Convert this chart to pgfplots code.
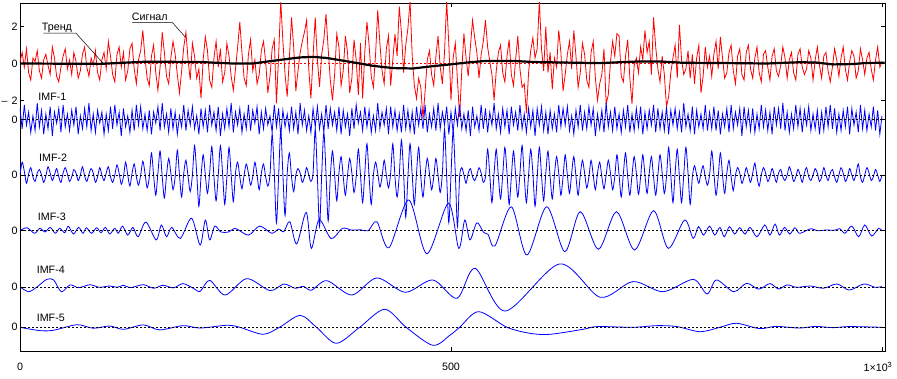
\documentclass[border=0pt]{standalone}
\usepackage{fontspec}
\setmainfont{Liberation Sans}
\usepackage{pgfplots}
\usepackage{pgfplotstable}
\pgfplotsset{compat=1.18}
\newcommand{\lbl}{\fontsize{10.7}{12}\selectfont}

\pgfplotstableread[row sep=\\]{y\\
0.1\\ 0.6\\ -0.2\\ 0.8\\ -0.5\\ -0.9\\ 0.3\\ 0.1\\ 0.7\\ -0.4\\ -0.8\\ 0.2\\ 0.5\\ -0.1\\ -0.6\\ 0.9\\ 0.3\\ -0.7\\ -1.0\\ -0.2\\
0.4\\ 0.8\\ -0.3\\ 0.2\\ -0.6\\ 0.6\\ 0.1\\ -0.8\\ -0.4\\ 0.5\\ 0.9\\ -0.2\\ -0.7\\ 0.3\\ -0.1\\ 0.7\\ -0.5\\ -0.9\\ 0.2\\ 0.6\\
-0.3\\ 1.2\\ 0.4\\ -0.6\\ -1.0\\ 0.5\\ 0.9\\ -0.2\\ 0.6\\ -0.9\\ -0.4\\ 0.8\\ 1.1\\ -0.3\\ -1.1\\ 0.2\\ 0.7\\ 1.8\\ 0.3\\ -0.8\\
-1.2\\ 0.4\\ 1.0\\ -0.5\\ -1.45\\ -0.2\\ 1.7\\ 0.6\\ -0.7\\ -1.1\\ 0.3\\ 1.2\\ 0.5\\ -0.6\\ -1.6\\ -0.4\\ 0.9\\ 1.7\\ 0.2\\ -0.9\\
1.1\\ 0.4\\ -0.8\\ -0.3\\ -1.9\\ 0.2\\ 1.45\\ 0.7\\ -0.9\\ -1.3\\ 0.3\\ 1.2\\ -0.2\\ 0.8\\ -1.0\\ -0.5\\ 1.1\\ 0.4\\ -0.7\\ -1.45\\
-0.3\\ 0.9\\ 2.26\\ 0.6\\ -0.8\\ -1.2\\ 0.5\\ 1.3\\ -0.4\\ 0.2\\ -1.1\\ -0.6\\ 0.7\\ 1.2\\ 0.1\\ -1.6\\ -0.7\\ 0.8\\ 1.3\\ -2.17\\
0.4\\ 3.4\\ 1.2\\ -0.6\\ -1.8\\ 0.3\\ 2.5\\ 0.9\\ -1.5\\ -0.4\\ 0.6\\ 1.2\\ 1.7\\ 2.35\\ -0.3\\ -1.9\\ 0.4\\ 2.5\\ 0.2\\ -1.27\\
0.5\\ 1.3\\ 2.7\\ 0.8\\ -0.9\\ -2.0\\ -0.6\\ 1.6\\ 0.9\\ -1.2\\ -0.4\\ 1.5\\ 0.6\\ -1.6\\ -0.8\\ 1.3\\ 0.2\\ -1.7\\ 1.1\\ -1.9\\
0.6\\ 2.26\\ 1.0\\ -0.7\\ -1.3\\ 0.5\\ 2.9\\ 1.1\\ -0.4\\ -1.1\\ 0.8\\ 1.5\\ -1.2\\ 0.2\\ 1.6\\ 0.4\\ 3.1\\ 1.7\\ -0.5\\ 1.0\\
1.9\\ 3.4\\ 0.4\\ -1.2\\ -1.9\\ -0.8\\ -1.3\\ -3.0\\ -1.5\\ 0.2\\ 0.7\\ -0.6\\ -1.2\\ 0.4\\ 1.5\\ -0.2\\ -1.1\\ 0.6\\ 3.4\\ 1.0\\
-2.0\\ 0.3\\ 1.1\\ -0.9\\ -2.9\\ -0.4\\ 1.63\\ 0.3\\ -0.7\\ 0.9\\ 2.35\\ 1.4\\ 0.6\\ -0.8\\ 0.5\\ 1.2\\ 2.35\\ 0.9\\ 0.1\\ -0.6\\
-2.0\\ -0.4\\ 0.6\\ 1.0\\ -0.5\\ -1.0\\ 0.4\\ 1.3\\ -0.6\\ -1.2\\ 0.2\\ 1.5\\ -0.3\\ -1.3\\ -1.1\\ -2.7\\ -0.5\\ 0.7\\ 1.4\\ 0.3\\
0.8\\ 3.4\\ 0.8\\ -0.4\\ 2.0\\ -0.5\\ 0.6\\ -1.4\\ 0.3\\ -0.2\\ 1.8\\ 0.6\\ -1.5\\ -0.6\\ 0.5\\ 1.2\\ -0.3\\ 1.8\\ 0.4\\ -1.3\\
-0.5\\ 1.1\\ 0.5\\ -0.9\\ -1.3\\ 0.6\\ 1.2\\ -0.8\\ -2.0\\ -1.1\\ -0.6\\ 0.8\\ -2.2\\ -1.7\\ 0.1\\ 1.2\\ 0.4\\ 1.63\\ 1.5\\ -0.7\\
-1.0\\ 0.4\\ 1.3\\ -0.8\\ -2.2\\ -0.1\\ 0.3\\ -0.5\\ 0.9\\ 0.2\\ 1.8\\ 0.6\\ 1.2\\ -0.6\\ 2.5\\ 0.9\\ -0.3\\ -1.0\\ 0.4\\ -0.6\\
-2.35\\ -1.8\\ -0.5\\ 0.3\\ 1.0\\ -0.8\\ 2.1\\ 0.2\\ -0.6\\ -0.3\\ 0.7\\ -0.8\\ 0.5\\ -1.1\\ 0.3\\ 1.0\\ -1.6\\ -0.7\\ 0.9\\ -0.2\\
0.4\\ -0.7\\ 0.5\\ 1.2\\ -0.3\\ 1.45\\ 0.3\\ -0.8\\ -0.5\\ 0.6\\ 1.0\\ -0.4\\ -1.1\\ 0.4\\ 0.8\\ -0.6\\ -0.9\\ 0.6\\ 1.0\\ -0.3\\
-0.8\\ 0.3\\ 0.9\\ -0.5\\ -1.0\\ 0.5\\ 0.7\\ -0.2\\ -0.9\\ 0.4\\ 0.8\\ -0.4\\ -0.7\\ -0.1\\ 0.9\\ 0.3\\ -0.8\\ 0.2\\ 0.6\\ -0.5\\
-0.9\\ 0.5\\ 0.8\\ -0.2\\ -0.6\\ -0.3\\ 0.7\\ 0.3\\ -0.9\\ 0.2\\ 0.9\\ -0.1\\ -0.8\\ 0.4\\ 0.6\\ -0.4\\ -1.0\\ -0.2\\ 0.8\\ 0.2\\
-0.7\\ 0.3\\ 0.9\\ -0.3\\ -0.9\\ 0.1\\ 0.7\\ 0.4\\ -0.8\\ -0.4\\ 0.8\\ 0.2\\ -0.6\\ 0.3\\ 0.6\\ -0.3\\ -0.9\\ 0.2\\ 0.9\\ -0.2\\
0.1\\
}\sig

\pgfplotstableread[row sep=\\]{y\\
0.6\\ -0.5\\ 0.8\\ -0.3\\ 0.4\\ -0.7\\ 0.2\\ -0.6\\ 0.9\\ -0.4\\ 0.5\\ -0.8\\ 0.3\\ -0.5\\ 0.7\\ -0.9\\ 0.4\\ -0.2\\ 0.6\\ -0.7\\
0.8\\ -0.4\\ 0.3\\ -0.6\\ 0.5\\ -0.3\\ 0.7\\ -0.8\\ 0.2\\ -0.5\\ 0.6\\ -0.4\\ 0.9\\ -0.6\\ 0.3\\ -0.7\\ 0.5\\ -0.2\\ 0.4\\ -0.8\\
0.3\\ -0.6\\ 0.7\\ -0.5\\ 0.8\\ -0.3\\ 0.4\\ -0.9\\ 0.6\\ -0.4\\ 0.2\\ -0.7\\ 0.5\\ -0.6\\ 0.8\\ -0.3\\ 0.7\\ -0.5\\ 0.3\\ -0.6\\
0.5\\ -0.8\\ 0.4\\ -0.2\\ 0.7\\ -0.6\\ 0.9\\ -0.4\\ 0.3\\ -0.7\\ 0.6\\ -0.5\\ 0.4\\ -0.8\\ 0.2\\ -0.4\\ 0.8\\ -0.6\\ 0.5\\ -0.3\\
0.7\\ -0.5\\ 0.2\\ -0.8\\ 0.6\\ -0.4\\ 0.5\\ -0.7\\ 0.8\\ -0.3\\ 0.4\\ -0.6\\ 0.7\\ -0.9\\ 0.3\\ -0.5\\ 0.6\\ -0.4\\ 0.9\\ -0.7\\
0.4\\ -0.3\\ 0.6\\ -0.7\\ 0.3\\ -0.5\\ 0.8\\ -0.6\\ 0.5\\ -0.2\\ 0.7\\ -0.8\\ 0.4\\ -0.5\\ 0.6\\ -0.3\\ 0.2\\ -0.7\\ 0.8\\ -0.4\\
0.6\\ -0.9\\ 0.5\\ -0.4\\ 0.3\\ -0.6\\ 0.7\\ -0.5\\ 0.4\\ -0.8\\ 0.9\\ -0.3\\ 0.5\\ -0.6\\ 0.2\\ -0.7\\ 0.6\\ -0.4\\ 0.7\\ -0.5\\
0.3\\ -0.7\\ 0.8\\ -0.5\\ 0.6\\ -0.3\\ 0.4\\ -0.6\\ 0.7\\ -0.8\\ 0.5\\ -0.4\\ 0.3\\ -0.9\\ 0.6\\ -0.5\\ 0.8\\ -0.2\\ 0.4\\ -0.6\\
0.7\\ -0.4\\ 0.5\\ -0.7\\ 0.2\\ -0.6\\ 0.9\\ -0.5\\ 0.4\\ -0.3\\ 0.6\\ -0.8\\ 0.7\\ -0.4\\ 0.5\\ -0.6\\ 0.3\\ -0.7\\ 0.8\\ -0.5\\
0.5\\ -0.6\\ 0.4\\ -0.8\\ 0.7\\ -0.3\\ 0.6\\ -0.5\\ 0.8\\ -0.7\\ 0.3\\ -0.4\\ 0.6\\ -0.6\\ 0.9\\ -0.5\\ 0.4\\ -0.3\\ 0.7\\ -0.8\\
0.4\\ -0.7\\ 0.6\\ -0.3\\ 0.8\\ -0.5\\ 0.3\\ -0.6\\ 0.5\\ -0.9\\ 0.7\\ -0.4\\ 0.2\\ -0.6\\ 0.8\\ -0.5\\ 0.6\\ -0.7\\ 0.4\\ -0.3\\
0.9\\ -0.5\\ 0.3\\ -0.7\\ 0.6\\ -0.4\\ 0.5\\ -0.8\\ 0.7\\ -0.3\\ 0.4\\ -0.6\\ 0.8\\ -0.5\\ 0.3\\ -0.7\\ 0.6\\ -0.4\\ 0.5\\ -0.9\\
0.6\\ -0.3\\ 0.7\\ -0.6\\ 0.4\\ -0.8\\ 0.5\\ -0.5\\ 0.3\\ -0.7\\ 0.8\\ -0.4\\ 0.6\\ -0.3\\ 0.7\\ -0.6\\ 0.2\\ -0.8\\ 0.5\\ -0.4\\
0.8\\ -0.6\\ 0.4\\ -0.5\\ 0.7\\ -0.3\\ 0.6\\ -0.9\\ 0.3\\ -0.5\\ 0.5\\ -0.7\\ 0.9\\ -0.4\\ 0.4\\ -0.6\\ 0.7\\ -0.5\\ 0.3\\ -0.7\\
0.5\\ -0.4\\ 0.8\\ -0.7\\ 0.3\\ -0.6\\ 0.6\\ -0.4\\ 0.7\\ -0.8\\ 0.4\\ -0.5\\ 0.5\\ -0.3\\ 0.8\\ -0.7\\ 0.6\\ -0.5\\ 0.4\\ -0.6\\
0.7\\ -0.8\\ 0.5\\ -0.3\\ 0.6\\ -0.5\\ 0.4\\ -0.7\\ 0.9\\ -0.4\\ 0.3\\ -0.6\\ 0.7\\ -0.8\\ 0.5\\ -0.4\\ 0.3\\ -0.5\\ 0.8\\ -0.6\\
0.4\\ -0.5\\ 0.7\\ -0.6\\ 0.5\\ -0.8\\ 0.3\\ -0.4\\ 0.6\\ -0.7\\ 0.8\\ -0.5\\ 0.4\\ -0.3\\ 0.6\\ -0.9\\ 0.7\\ -0.4\\ 0.5\\ -0.6\\
0.6\\ -0.7\\ 0.3\\ -0.5\\ 0.8\\ -0.4\\ 0.5\\ -0.6\\ 0.4\\ -0.8\\ 0.7\\ -0.3\\ 0.6\\ -0.5\\ 0.9\\ -0.6\\ 0.4\\ -0.7\\ 0.3\\ -0.5\\
0.8\\ -0.4\\ 0.6\\ -0.7\\ 0.5\\ -0.3\\ 0.7\\ -0.6\\ 0.3\\ -0.5\\ 0.5\\ -0.8\\ 0.4\\ -0.6\\ 0.7\\ -0.4\\ 0.8\\ -0.5\\ 0.6\\ -0.7\\
0.3\\ -0.6\\ 0.5\\ -0.4\\ 0.7\\ -0.8\\ 0.6\\ -0.3\\ 0.4\\ -0.7\\ 0.8\\ -0.5\\ 0.5\\ -0.6\\ 0.3\\ -0.4\\ 0.7\\ -0.6\\ 0.5\\ -0.8\\
0.2\\
}\imfone

\pgfplotstableread[row sep=\\]{y\\
0\\ 0.7\\ 0.2\\ -0.45\\ 0.05\\ 0.4\\ -0.1\\ -0.35\\ 0.1\\ 0.3\\ 0\\ -0.4\\ -0.05\\ 0.45\\ 0.1\\ -0.3\\
0\\ 0.35\\ -0.1\\ -0.4\\ 0.1\\ 0.4\\ 0.05\\ -0.35\\ -0.1\\ 0.3\\ 0.1\\ -0.3\\ 0\\ 0.45\\ -0.05\\ -0.35\\
0.05\\ 0.35\\ 0.1\\ -0.4\\ -0.1\\ 0.4\\ 0\\ -0.3\\ 0.1\\ 0.45\\ -0.1\\ -0.4\\ 0\\ 0.55\\ 0.1\\ -0.5\\
-0.1\\ 0.7\\ 0\\ -0.6\\ 0.1\\ 0.6\\ -0.1\\ -0.55\\ 0\\ 0.75\\ 0.1\\ -0.7\\ -0.1\\ 1.2\\ 0\\ -1.1\\
0.1\\ 1.3\\ -0.1\\ -1.25\\ 0\\ 0.9\\ 0.1\\ -0.8\\ -0.1\\ 1.35\\ 0\\ -1.2\\ 0.1\\ 0.8\\ -0.1\\ -0.9\\
0\\ 1.6\\ 0.1\\ -1.7\\ -0.1\\ 1.1\\ 0\\ -1.0\\ 0.1\\ 1.55\\ -0.1\\ -1.4\\ 0\\ 1.6\\ 0.1\\ -1.6\\
-0.1\\ 1.5\\ 0\\ -1.45\\ 0.1\\ 0.7\\ -0.1\\ -0.75\\ 0\\ 0.6\\ 0.1\\ -0.55\\ -0.1\\ 0.7\\ 0\\ -0.8\\
0.1\\ 0.6\\ -0.1\\ -0.6\\ 0\\ 2.2\\ 0.1\\ -2.6\\ -0.1\\ 2.4\\ 0\\ -2.2\\ 0.1\\ 1.2\\ -0.1\\ -0.9\\
0\\ 0.35\\ 0.1\\ -0.4\\ -0.1\\ 0.4\\ 0\\ -0.35\\ 0.1\\ 2.5\\ -0.1\\ -2.8\\ 0\\ 2.3\\ 0.1\\ -2.5\\
-0.1\\ 1.3\\ 0\\ -1.4\\ 0.1\\ 1.0\\ -0.1\\ -1.1\\ 0\\ 0.9\\ 0.1\\ -0.95\\ -0.1\\ 1.4\\ 0\\ -1.5\\
0.1\\ 1.7\\ -0.1\\ -1.6\\ 0\\ 0.7\\ 0.1\\ -0.65\\ -0.1\\ 0.8\\ 0\\ -0.7\\ 0.1\\ 1.7\\ -0.1\\ -1.2\\
0\\ 1.9\\ 0.1\\ -2.3\\ -0.1\\ 1.7\\ 0\\ -1.6\\ 0.1\\ 1.5\\ -0.1\\ -1.2\\ 0\\ 0.9\\ 0.1\\ -0.8\\
-0.1\\ 0.9\\ 0\\ -0.95\\ 0.1\\ 2.5\\ -0.1\\ -2.6\\ 0\\ 2.4\\ 0.1\\ -2.8\\ -0.1\\ 0.4\\ 0\\ -0.45\\
0.1\\ 0.35\\ -0.1\\ -0.3\\ 0\\ 0.4\\ 0.1\\ -0.4\\ -0.1\\ 1.4\\ 0\\ -1.5\\ 0.1\\ 1.4\\ -0.1\\ -1.3\\
0\\ 1.5\\ 0.1\\ -1.6\\ -0.1\\ 1.3\\ 0\\ -1.2\\ 0.1\\ 1.6\\ -0.1\\ -1.5\\ 0\\ 1.4\\ 0.1\\ -1.7\\
-0.1\\ 1.5\\ 0\\ -1.4\\ 0.1\\ 1.3\\ -0.1\\ -1.3\\ 0\\ 1.0\\ 0.1\\ -1.1\\ -0.1\\ 1.1\\ 0\\ -1.0\\
0.1\\ 1.0\\ -0.1\\ -1.1\\ 0\\ 0.8\\ 0.1\\ -0.7\\ -0.1\\ 0.8\\ 0\\ -0.8\\ 0.1\\ 0.7\\ -0.1\\ -0.75\\
0\\ 0.8\\ 0.1\\ -0.8\\ -0.1\\ 1.1\\ 0\\ -1.2\\ 0.1\\ 1.2\\ -0.1\\ -1.1\\ 0\\ 1.0\\ 0.1\\ -1.05\\
-0.1\\ 1.1\\ 0\\ -1.0\\ 0.1\\ 1.0\\ -0.1\\ -1.1\\ 0\\ 1.1\\ 0.1\\ -1.0\\ -0.1\\ 1.5\\ 0\\ -1.5\\
0.1\\ 1.4\\ -0.1\\ -1.5\\ 0\\ 1.5\\ 0.1\\ -1.6\\ -0.1\\ 0.5\\ 0\\ -0.45\\ 0.1\\ 0.5\\ -0.1\\ -0.55\\
0\\ 1.3\\ 0.1\\ -1.1\\ -0.1\\ 1.2\\ 0\\ -1.0\\ 0.1\\ 0.8\\ -0.1\\ -0.85\\ 0\\ 0.4\\ 0.1\\ -0.45\\
-0.1\\ 0.4\\ 0\\ -0.4\\ 0.1\\ 0.65\\ -0.1\\ -0.6\\ 0\\ 0.4\\ 0.1\\ -0.35\\ -0.1\\ 0.35\\ 0\\ -0.4\\
0.1\\ 0.3\\ -0.1\\ -0.3\\ 0\\ 0.45\\ 0.1\\ -0.35\\ -0.1\\ 0.3\\ 0\\ -0.4\\ 0.1\\ 0.4\\ -0.1\\ -0.3\\
0\\ 0.35\\ 0.1\\ -0.35\\ -0.1\\ 0.4\\ 0\\ -0.3\\ 0.1\\ 0.3\\ -0.1\\ -0.4\\ 0\\ 0.4\\ 0.1\\ -0.35\\
-0.1\\ 0.35\\ 0\\ -0.3\\ 0.1\\ 0.6\\ -0.1\\ -0.4\\ 0\\ 0.4\\ 0.1\\ -0.3\\ -0.1\\ 0.3\\ 0\\ -0.35\\
0\\
}\imftwo

\begin{document}
\begin{tikzpicture}
\useasboundingbox (0,0) rectangle (897pt,378pt);
\begin{axis}[
  at={(20pt,27pt)}, anchor=south west,
  scale only axis, width=865pt, height=348pt,
  xmin=0, xmax=1003.5, ymin=0, ymax=18.913,
  xtick={0,500,1000},
  xticklabels={0,500,{1×10\textsuperscript{3}\hspace*{8pt}}},
  ytick={1.288,3.462,6.538,9.565,12.58,13.625,15.625,17.625},
  yticklabels={0,0,0,0,0,{–\hspace{4pt}2},0,2},
  tick align=inside, major tick length=4pt,
  tick style={black, line width=0.6pt},
  axis line style={black, line width=0.8pt},
  every tick label/.append style={font=\lbl},
  xticklabel style={yshift=-8pt},
  yticklabel style={xshift=1pt},
  /pgf/number format/assume math mode=true,
]
% signal
\addplot[red, line width=0.8pt] table[x index=0, y index=0, x expr=\coordindex*2.5, y expr=\thisrow{y}+15.625] {\sig};
\addplot[red, line width=0.6pt, dash pattern=on 2pt off 2pt] coordinates {(0,15.625) (1003.5,15.625)};
% trend
\addplot[black, line width=2.2pt] table[y expr=\thisrow{y}+15.625] {
x y
0 0
93 -0.02
124 0.05
147 0.1
209 0.08
247 0
270 0
286 0.1
309 0.24
325 0.33
340 0.36
356 0.3
383 0.09
410 -0.13
433 -0.25
456 -0.27
480 -0.14
499 -0.05
518 0.05
538 0.13
572 0.14
596 0.08
634 0.05
673 0.02
696 0.07
719 0.11
742 0.11
769 0.04
827 0.02
866 0
905 0.07
924 0.05
943 -0.05
966 -0.03
982 0.03
1003 0.04
};
% IMF-1
\addplot[blue, line width=0.8pt] table[x index=0, y index=0, x expr=\coordindex*2.5, y expr=\thisrow{y}+12.58] {\imfone};
\addplot[black, line width=0.6pt, dash pattern=on 2pt off 2pt] coordinates {(0,12.58) (1003.5,12.58)};
% IMF-2
\addplot[blue, line width=0.8pt, smooth] table[x index=0, y index=0, x expr=\coordindex*2.5, y expr=\thisrow{y}+9.565] {\imftwo};
\addplot[black, line width=0.6pt, dash pattern=on 2pt off 2pt] coordinates {(0,9.565) (1003.5,9.565)};
% IMF-3
\addplot[blue, line width=0.8pt, smooth] table[y expr=\thisrow{y}+6.538] {
x y
0 0
8 0.16
17 -0.14
23 0.13
29 -0.07
35 0.18
41 -0.14
46 0.13
52 -0.11
56 0.25
62 -0.18
68 0.18
73 -0.14
77 0.16
83 -0.14
89 0.16
94 -0.11
99 0.18
104 -0.18
110 0.13
114 -0.14
119 0.25
125 -0.24
131 0.18
137 -0.33
146 0.47
158 -0.5
164 0.31
170 -0.33
176 0.18
186 -0.42
199 0.68
209 -0.78
215 0.58
220 -0.5
226 0.25
233 -0.07
242 -0.07
250 0.12
265 -0.24
278 0.25
292 -0.14
300 0.09
306 -0.05
313 0.49
321 -0.72
332 1.0
338 -0.96
347 0.6
361 -0.43
374 0.13
385 0.03
395 0.05
404 0
414 0.49
428 -0.93
451 1.67
472 -1.25
497 1.5
509 -0.96
516 0.58
522 -0.5
530 0.43
538 -0.1
543 -0.2
551 -0.83
570 1.3
588 -1.32
611 1.3
632 -1.14
650 1.03
671 -1.01
692 1.03
713 -1.05
735 1.09
752 -0.96
771 0.58
781 -0.42
787 0.22
793 -0.24
800 0.25
806 -0.24
812 0.18
817 -0.33
823 0.22
829 -0.18
835 0.16
841 -0.18
847 0.18
855 -0.33
864 0.31
870 -0.24
876 0.36
881 -0.24
887 0.18
893 -0.18
899 0.16
904 -0.14
912 0
918 0.11
925 0
936 0.04
945 0.02
951 0.11
957 -0.14
965 0.25
973 -0.33
980 0.31
988 -0.29
996 0.13
1000 0
};
\addplot[black, line width=0.6pt, dash pattern=on 2pt off 2pt] coordinates {(0,6.538) (1003.5,6.538)};
% IMF-4
\addplot[blue, line width=0.8pt, smooth] table[y expr=\thisrow{y}+3.462] {
x y
0 0.03
10 -0.24
20 0.03
31 0.43
39 0.4
48 -0.24
58 0.13
68 -0.02
81 0.14
92 0
104 0.07
113 0
120 0.11
128 -0.02
143 0.14
155 -0.05
166 0.11
178 -0.03
189 0.2
201 -0.05
209 -0.22
220 0.38
238 -0.42
263 0.47
290 -0.18
306 0.18
319 -0.05
329 0.05
338 -0.16
356 0.36
385 -0.42
414 0.51
447 -0.27
479 0.4
507 -0.6
528 1.03
563 -1.29
626 1.27
673 -0.54
711 0.31
746 -0.24
781 0.43
797 -0.36
808 0.4
828 -0.24
843 0.22
857 -0.1
870 0.2
880 -0.09
890 0.13
901 0
917 0.07
932 -0.05
948 0.18
962 -0.15
979 0.18
992 0
1000 0.04
};
\addplot[black, line width=0.6pt, dash pattern=on 2pt off 2pt] coordinates {(0,3.462) (1003.5,3.462)};
% IMF-5
\addplot[blue, line width=0.8pt, smooth] table[y expr=\thisrow{y}+1.288] {
x y
0 0
23 -0.18
39 -0.16
66 0.14
85 -0.05
104 0.07
120 -0.11
143 0.13
162 -0.14
189 0.09
209 -0.04
240 0.11
255 0
282 -0.38
301 0
325 0.65
344 0
367 -0.87
394 0
423 0.98
448 0
479 -0.98
499 -0.42
510 0
532 0.85
565 0
592 -0.33
615 -0.38
653 -0.11
670 0.04
711 0
739 0.09
762 0.04
789 -0.24
812 0
831 0.22
858 -0.07
877 0.05
904 -0.04
923 0.05
943 -0.02
962 0.04
1000 0
};
\addplot[black, line width=0.6pt, dash pattern=on 2pt off 2pt] coordinates {(0,1.288) (1003.5,1.288)};
% labels
\node[anchor=base west, font=\lbl, inner sep=0pt] at (axis cs:21.2,13.64) {IMF-1};
\node[anchor=base west, font=\lbl, inner sep=0pt] at (axis cs:22,10.29) {IMF-2};
\node[anchor=base west, font=\lbl, inner sep=0pt] at (axis cs:20.5,7.07) {IMF-3};
\node[anchor=base west, font=\lbl, inner sep=0pt] at (axis cs:19.3,4.22) {IMF-4};
\node[anchor=base west, font=\lbl, inner sep=0pt] at (axis cs:19.3,1.63) {IMF-5};
\node[anchor=base west, font=\lbl, inner sep=0pt] at (axis cs:25.2,17.41) {Тренд};
\node[anchor=base west, font=\lbl, inner sep=0pt] at (axis cs:129.6,17.95) {Сигнал};
\draw[black, line width=0.5pt] (axis cs:27,17.27) -- (axis cs:65,17.27) -- (axis cs:96.6,15.63);
\draw[black, line width=0.5pt] (axis cs:130,17.84) -- (axis cs:177,17.84) -- (axis cs:191.4,17.08);
\end{axis}
\end{tikzpicture}
\end{document}
